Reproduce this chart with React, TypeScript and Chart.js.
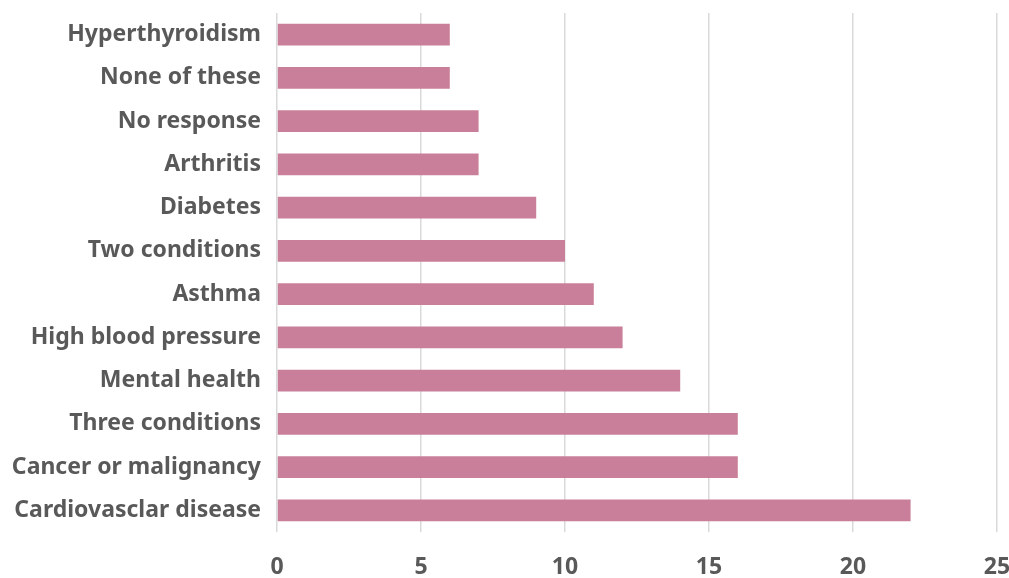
import React, { useEffect, useRef } from "react";
import { Chart, registerables } from "chart.js";

Chart.register(...registerables);

const categories = [
  "Hyperthyroidism",
  "None of these",
  "No response",
  "Arthritis",
  "Diabetes",
  "Two conditions",
  "Asthma",
  "High blood pressure",
  "Mental health",
  "Three conditions",
  "Cancer or malignancy",
  "Cardiovasclar disease",
];
const values = [6, 6, 7, 7, 9, 10, 11, 12, 14, 16, 16, 22];
const xTicks = [0, 5, 10, 15, 20, 25];

export default function App() {
  const ref = useRef<HTMLCanvasElement>(null);
  useEffect(() => {
    const font = { family: "'Noto Sans', sans-serif", size: 23, weight: "bold" as const };
    const chart = new Chart(ref.current!, {
      type: "bar",
      data: {
        labels: categories,
        datasets: [
          {
            data: values,
            backgroundColor: "#C97F99",
            borderWidth: 0,
            barPercentage: 0.5,
            categoryPercentage: 1,
          },
        ],
      },
      options: {
        indexAxis: "y",
        animation: false,
        responsive: false,
        maintainAspectRatio: false,
        layout: { padding: { left: 0, right: 12, top: 13, bottom: 0 } },
        plugins: { legend: { display: false }, tooltip: { enabled: false } },
        scales: {
          x: {
            min: 0,
            max: 25,
            afterBuildTicks: (s: any) => {
              s.ticks = xTicks.map((v) => ({ value: v }));
            },
            afterFit: (s: any) => {
              s.height = 46;
              s.paddingLeft = 0;
              s.paddingRight = 0;
            },
            grid: { color: "#D9D9D9", lineWidth: 1.5, drawTicks: false },
            border: { display: false },
            ticks: { color: "#595959", font, padding: 22 },
          },
          y: {
            afterFit: (s: any) => {
              s.width = 277;
              s.paddingTop = 0;
              s.paddingBottom = 0;
            },
            grid: { display: false, drawTicks: false },
            border: { display: false },
            ticks: { color: "#595959", font, padding: 16 },
          },
        },
      },
    });
    return () => chart.destroy();
  }, []);
  return (
    <div style={{ position: "fixed", left: 0, top: 0, width: 1009, height: 578, background: "#fff" }}>
      <canvas ref={ref} width={1009} height={578} style={{ width: 1009, height: 578 }} />
    </div>
  );
}
